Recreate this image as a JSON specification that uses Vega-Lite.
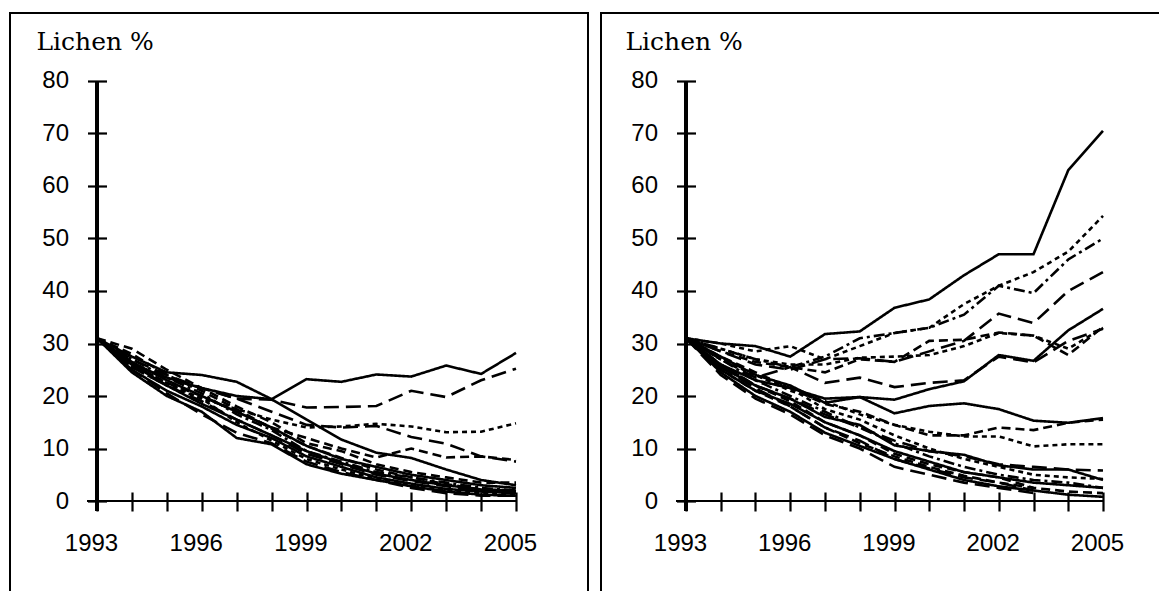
{
"$schema": "https://vega.github.io/schema/vega-lite/v6.json",
"background": "white",
"padding": {"left": 9, "top": 12, "right": 0, "bottom": 0},
"autosize": {"type": "pad"},
"config": {
 "view": {"stroke": "black", "strokeWidth": 2},
 "concat": {"spacing": 11},
 "axis": {"grid": false, "domain": false, "tickColor": "black", "tickWidth": 2.2, "tickSize": 19, "labelColor": "black", "labelFont": "Liberation Sans", "labelFontSize": 24, "labelFlush": false, "labelOverlap": false, "labelBound": false}
},
"datasets": {
"left": [
{"id":"L1","s":"solid","x":1993,"y":31},{"id":"L1","s":"solid","x":1994,"y":27.5},{"id":"L1","s":"solid","x":1995,"y":24.5},{"id":"L1","s":"solid","x":1996,"y":24},{"id":"L1","s":"solid","x":1997,"y":22.7},{"id":"L1","s":"solid","x":1998,"y":19.4},{"id":"L1","s":"solid","x":1999,"y":23.2},{"id":"L1","s":"solid","x":2000,"y":22.7},{"id":"L1","s":"solid","x":2001,"y":24.1},{"id":"L1","s":"solid","x":2002,"y":23.7},{"id":"L1","s":"solid","x":2003,"y":25.8},{"id":"L1","s":"solid","x":2004,"y":24.2},{"id":"L1","s":"solid","x":2005,"y":28.2},
{"id":"L2","s":"long","x":1993,"y":31},{"id":"L2","s":"long","x":1994,"y":26},{"id":"L2","s":"long","x":1995,"y":23.5},{"id":"L2","s":"long","x":1996,"y":21.5},{"id":"L2","s":"long","x":1997,"y":19.5},{"id":"L2","s":"long","x":1998,"y":19.3},{"id":"L2","s":"long","x":1999,"y":17.8},{"id":"L2","s":"long","x":2000,"y":17.9},{"id":"L2","s":"long","x":2001,"y":18.1},{"id":"L2","s":"long","x":2002,"y":21},{"id":"L2","s":"long","x":2003,"y":19.8},{"id":"L2","s":"long","x":2004,"y":23},{"id":"L2","s":"long","x":2005,"y":25.2},
{"id":"L3","s":"solid","x":1993,"y":31},{"id":"L3","s":"solid","x":1994,"y":26},{"id":"L3","s":"solid","x":1995,"y":23.5},{"id":"L3","s":"solid","x":1996,"y":21.5},{"id":"L3","s":"solid","x":1997,"y":20},{"id":"L3","s":"solid","x":1998,"y":19.4},{"id":"L3","s":"solid","x":1999,"y":15.5},{"id":"L3","s":"solid","x":2000,"y":11.7},{"id":"L3","s":"solid","x":2001,"y":9.2},{"id":"L3","s":"solid","x":2002,"y":8.2},{"id":"L3","s":"solid","x":2003,"y":6},{"id":"L3","s":"solid","x":2004,"y":4},{"id":"L3","s":"solid","x":2005,"y":3},
{"id":"L4","s":"short","x":1993,"y":31},{"id":"L4","s":"short","x":1994,"y":25.5},{"id":"L4","s":"short","x":1995,"y":22},{"id":"L4","s":"short","x":1996,"y":19.5},{"id":"L4","s":"short","x":1997,"y":17.5},{"id":"L4","s":"short","x":1998,"y":15.5},{"id":"L4","s":"short","x":1999,"y":14},{"id":"L4","s":"short","x":2000,"y":14.2},{"id":"L4","s":"short","x":2001,"y":14.7},{"id":"L4","s":"short","x":2002,"y":14.2},{"id":"L4","s":"short","x":2003,"y":13.1},{"id":"L4","s":"short","x":2004,"y":13.2},{"id":"L4","s":"short","x":2005,"y":14.8},
{"id":"L5","s":"long","x":1993,"y":31},{"id":"L5","s":"long","x":1994,"y":27},{"id":"L5","s":"long","x":1995,"y":24},{"id":"L5","s":"long","x":1996,"y":21.5},{"id":"L5","s":"long","x":1997,"y":19.5},{"id":"L5","s":"long","x":1998,"y":17},{"id":"L5","s":"long","x":1999,"y":14.5},{"id":"L5","s":"long","x":2000,"y":14},{"id":"L5","s":"long","x":2001,"y":14.3},{"id":"L5","s":"long","x":2002,"y":12.2},{"id":"L5","s":"long","x":2003,"y":10.9},{"id":"L5","s":"long","x":2004,"y":8.5},{"id":"L5","s":"long","x":2005,"y":7.5},
{"id":"L6","s":"med","x":1993,"y":31},{"id":"L6","s":"med","x":1994,"y":26},{"id":"L6","s":"med","x":1995,"y":22.5},{"id":"L6","s":"med","x":1996,"y":20},{"id":"L6","s":"med","x":1997,"y":17},{"id":"L6","s":"med","x":1998,"y":14},{"id":"L6","s":"med","x":1999,"y":12},{"id":"L6","s":"med","x":2000,"y":10},{"id":"L6","s":"med","x":2001,"y":8.3},{"id":"L6","s":"med","x":2002,"y":10},{"id":"L6","s":"med","x":2003,"y":8.3},{"id":"L6","s":"med","x":2004,"y":8.5},{"id":"L6","s":"med","x":2005,"y":7.8},
{"id":"B1","s":"med","x":1993,"y":31},{"id":"B1","s":"med","x":1994,"y":29},{"id":"B1","s":"med","x":1995,"y":25},{"id":"B1","s":"med","x":1996,"y":21.5},{"id":"B1","s":"med","x":1997,"y":18},{"id":"B1","s":"med","x":1998,"y":15},{"id":"B1","s":"med","x":1999,"y":11},{"id":"B1","s":"med","x":2000,"y":9.5},{"id":"B1","s":"med","x":2001,"y":7},{"id":"B1","s":"med","x":2002,"y":5.5},{"id":"B1","s":"med","x":2003,"y":4.5},{"id":"B1","s":"med","x":2004,"y":3.5},{"id":"B1","s":"med","x":2005,"y":3.5},
{"id":"B2","s":"solid","x":1993,"y":31},{"id":"B2","s":"solid","x":1994,"y":26.5},{"id":"B2","s":"solid","x":1995,"y":23},{"id":"B2","s":"solid","x":1996,"y":20},{"id":"B2","s":"solid","x":1997,"y":17},{"id":"B2","s":"solid","x":1998,"y":14},{"id":"B2","s":"solid","x":1999,"y":10.5},{"id":"B2","s":"solid","x":2000,"y":8},{"id":"B2","s":"solid","x":2001,"y":6.5},{"id":"B2","s":"solid","x":2002,"y":5},{"id":"B2","s":"solid","x":2003,"y":4},{"id":"B2","s":"solid","x":2004,"y":3},{"id":"B2","s":"solid","x":2005,"y":2.5},
{"id":"B3","s":"dashdot","x":1993,"y":31},{"id":"B3","s":"dashdot","x":1994,"y":27},{"id":"B3","s":"dashdot","x":1995,"y":23.5},{"id":"B3","s":"dashdot","x":1996,"y":20.5},{"id":"B3","s":"dashdot","x":1997,"y":16.5},{"id":"B3","s":"dashdot","x":1998,"y":13.5},{"id":"B3","s":"dashdot","x":1999,"y":9.5},{"id":"B3","s":"dashdot","x":2000,"y":7.5},{"id":"B3","s":"dashdot","x":2001,"y":5.5},{"id":"B3","s":"dashdot","x":2002,"y":4.5},{"id":"B3","s":"dashdot","x":2003,"y":3.5},{"id":"B3","s":"dashdot","x":2004,"y":2.5},{"id":"B3","s":"dashdot","x":2005,"y":2},
{"id":"B4","s":"long","x":1993,"y":31},{"id":"B4","s":"long","x":1994,"y":25.5},{"id":"B4","s":"long","x":1995,"y":22},{"id":"B4","s":"long","x":1996,"y":19},{"id":"B4","s":"long","x":1997,"y":15.5},{"id":"B4","s":"long","x":1998,"y":12.5},{"id":"B4","s":"long","x":1999,"y":9},{"id":"B4","s":"long","x":2000,"y":7},{"id":"B4","s":"long","x":2001,"y":5},{"id":"B4","s":"long","x":2002,"y":3.8},{"id":"B4","s":"long","x":2003,"y":2.8},{"id":"B4","s":"long","x":2004,"y":2},{"id":"B4","s":"long","x":2005,"y":1.8},
{"id":"B5","s":"solid","x":1993,"y":31},{"id":"B5","s":"solid","x":1994,"y":25},{"id":"B5","s":"solid","x":1995,"y":21},{"id":"B5","s":"solid","x":1996,"y":18},{"id":"B5","s":"solid","x":1997,"y":14.5},{"id":"B5","s":"solid","x":1998,"y":12},{"id":"B5","s":"solid","x":1999,"y":8.5},{"id":"B5","s":"solid","x":2000,"y":6.5},{"id":"B5","s":"solid","x":2001,"y":4.5},{"id":"B5","s":"solid","x":2002,"y":3.3},{"id":"B5","s":"solid","x":2003,"y":2.3},{"id":"B5","s":"solid","x":2004,"y":1.8},{"id":"B5","s":"solid","x":2005,"y":1.5},
{"id":"B6","s":"short","x":1993,"y":31},{"id":"B6","s":"short","x":1994,"y":26},{"id":"B6","s":"short","x":1995,"y":22.5},{"id":"B6","s":"short","x":1996,"y":19.5},{"id":"B6","s":"short","x":1997,"y":15},{"id":"B6","s":"short","x":1998,"y":11.5},{"id":"B6","s":"short","x":1999,"y":8},{"id":"B6","s":"short","x":2000,"y":6},{"id":"B6","s":"short","x":2001,"y":4.2},{"id":"B6","s":"short","x":2002,"y":3},{"id":"B6","s":"short","x":2003,"y":2},{"id":"B6","s":"short","x":2004,"y":1.5},{"id":"B6","s":"short","x":2005,"y":1.2},
{"id":"B7","s":"solid","x":1993,"y":31},{"id":"B7","s":"solid","x":1994,"y":24.5},{"id":"B7","s":"solid","x":1995,"y":20},{"id":"B7","s":"solid","x":1996,"y":17},{"id":"B7","s":"solid","x":1997,"y":12},{"id":"B7","s":"solid","x":1998,"y":10.8},{"id":"B7","s":"solid","x":1999,"y":7},{"id":"B7","s":"solid","x":2000,"y":5.2},{"id":"B7","s":"solid","x":2001,"y":4},{"id":"B7","s":"solid","x":2002,"y":2.8},{"id":"B7","s":"solid","x":2003,"y":1.8},{"id":"B7","s":"solid","x":2004,"y":1.2},{"id":"B7","s":"solid","x":2005,"y":1},
{"id":"B8","s":"long","x":1993,"y":31},{"id":"B8","s":"long","x":1994,"y":25},{"id":"B8","s":"long","x":1995,"y":20.5},{"id":"B8","s":"long","x":1996,"y":16.5},{"id":"B8","s":"long","x":1997,"y":13},{"id":"B8","s":"long","x":1998,"y":11},{"id":"B8","s":"long","x":1999,"y":7.5},{"id":"B8","s":"long","x":2000,"y":5.5},{"id":"B8","s":"long","x":2001,"y":4},{"id":"B8","s":"long","x":2002,"y":2.5},{"id":"B8","s":"long","x":2003,"y":1.5},{"id":"B8","s":"long","x":2004,"y":1},{"id":"B8","s":"long","x":2005,"y":1},
{"id":"B9","s":"med","x":1993,"y":31},{"id":"B9","s":"med","x":1994,"y":28},{"id":"B9","s":"med","x":1995,"y":24},{"id":"B9","s":"med","x":1996,"y":21},{"id":"B9","s":"med","x":1997,"y":17.5},{"id":"B9","s":"med","x":1998,"y":13.8},{"id":"B9","s":"med","x":1999,"y":10.5},{"id":"B9","s":"med","x":2000,"y":8.2},{"id":"B9","s":"med","x":2001,"y":6},{"id":"B9","s":"med","x":2002,"y":4.5},{"id":"B9","s":"med","x":2003,"y":3.2},{"id":"B9","s":"med","x":2004,"y":2.2},{"id":"B9","s":"med","x":2005,"y":1.8},
{"id":"B10","s":"solid","x":1993,"y":31},{"id":"B10","s":"solid","x":1994,"y":26},{"id":"B10","s":"solid","x":1995,"y":22},{"id":"B10","s":"solid","x":1996,"y":18.5},{"id":"B10","s":"solid","x":1997,"y":15.5},{"id":"B10","s":"solid","x":1998,"y":12.5},{"id":"B10","s":"solid","x":1999,"y":9.5},{"id":"B10","s":"solid","x":2000,"y":7.2},{"id":"B10","s":"solid","x":2001,"y":5.2},{"id":"B10","s":"solid","x":2002,"y":4},{"id":"B10","s":"solid","x":2003,"y":3},{"id":"B10","s":"solid","x":2004,"y":2.2},{"id":"B10","s":"solid","x":2005,"y":2}
],
"right": [
{"id":"R1","s":"solid","x":1993,"y":31},{"id":"R1","s":"solid","x":1994,"y":30},{"id":"R1","s":"solid","x":1995,"y":29.5},{"id":"R1","s":"solid","x":1996,"y":27.5},{"id":"R1","s":"solid","x":1997,"y":31.8},{"id":"R1","s":"solid","x":1998,"y":32.3},{"id":"R1","s":"solid","x":1999,"y":36.8},{"id":"R1","s":"solid","x":2000,"y":38.4},{"id":"R1","s":"solid","x":2001,"y":43},{"id":"R1","s":"solid","x":2002,"y":47},{"id":"R1","s":"solid","x":2003,"y":47},{"id":"R1","s":"solid","x":2004,"y":63},{"id":"R1","s":"solid","x":2005,"y":70.5},
{"id":"R2","s":"short","x":1993,"y":31},{"id":"R2","s":"short","x":1994,"y":30},{"id":"R2","s":"short","x":1995,"y":28.5},{"id":"R2","s":"short","x":1996,"y":29.5},{"id":"R2","s":"short","x":1997,"y":27},{"id":"R2","s":"short","x":1998,"y":29.5},{"id":"R2","s":"short","x":1999,"y":32},{"id":"R2","s":"short","x":2000,"y":33},{"id":"R2","s":"short","x":2001,"y":37.5},{"id":"R2","s":"short","x":2002,"y":41},{"id":"R2","s":"short","x":2003,"y":43.6},{"id":"R2","s":"short","x":2004,"y":47.5},{"id":"R2","s":"short","x":2005,"y":54.3},
{"id":"R3","s":"dashdot","x":1993,"y":31},{"id":"R3","s":"dashdot","x":1994,"y":29},{"id":"R3","s":"dashdot","x":1995,"y":27},{"id":"R3","s":"dashdot","x":1996,"y":25.5},{"id":"R3","s":"dashdot","x":1997,"y":27.5},{"id":"R3","s":"dashdot","x":1998,"y":31},{"id":"R3","s":"dashdot","x":1999,"y":32},{"id":"R3","s":"dashdot","x":2000,"y":33},{"id":"R3","s":"dashdot","x":2001,"y":35.5},{"id":"R3","s":"dashdot","x":2002,"y":41},{"id":"R3","s":"dashdot","x":2003,"y":39.6},{"id":"R3","s":"dashdot","x":2004,"y":46},{"id":"R3","s":"dashdot","x":2005,"y":50},
{"id":"R4","s":"long","x":1993,"y":31},{"id":"R4","s":"long","x":1994,"y":28.5},{"id":"R4","s":"long","x":1995,"y":26},{"id":"R4","s":"long","x":1996,"y":25},{"id":"R4","s":"long","x":1997,"y":27},{"id":"R4","s":"long","x":1998,"y":27.2},{"id":"R4","s":"long","x":1999,"y":26.5},{"id":"R4","s":"long","x":2000,"y":28.5},{"id":"R4","s":"long","x":2001,"y":30.5},{"id":"R4","s":"long","x":2002,"y":35.7},{"id":"R4","s":"long","x":2003,"y":33.9},{"id":"R4","s":"long","x":2004,"y":40},{"id":"R4","s":"long","x":2005,"y":43.6},
{"id":"R5","s":"solid","x":1993,"y":31},{"id":"R5","s":"solid","x":1994,"y":27.5},{"id":"R5","s":"solid","x":1995,"y":24},{"id":"R5","s":"solid","x":1996,"y":22},{"id":"R5","s":"solid","x":1997,"y":18.7},{"id":"R5","s":"solid","x":1998,"y":19.8},{"id":"R5","s":"solid","x":1999,"y":19.3},{"id":"R5","s":"solid","x":2000,"y":21.3},{"id":"R5","s":"solid","x":2001,"y":22.8},{"id":"R5","s":"solid","x":2002,"y":27.8},{"id":"R5","s":"solid","x":2003,"y":26.7},{"id":"R5","s":"solid","x":2004,"y":32.5},{"id":"R5","s":"solid","x":2005,"y":36.6},
{"id":"R6","s":"med","x":1993,"y":31},{"id":"R6","s":"med","x":1994,"y":28.5},{"id":"R6","s":"med","x":1995,"y":26.5},{"id":"R6","s":"med","x":1996,"y":25.5},{"id":"R6","s":"med","x":1997,"y":24.5},{"id":"R6","s":"med","x":1998,"y":27},{"id":"R6","s":"med","x":1999,"y":26.5},{"id":"R6","s":"med","x":2000,"y":30.5},{"id":"R6","s":"med","x":2001,"y":30.7},{"id":"R6","s":"med","x":2002,"y":32.1},{"id":"R6","s":"med","x":2003,"y":31.5},{"id":"R6","s":"med","x":2004,"y":27.8},{"id":"R6","s":"med","x":2005,"y":33.2},
{"id":"R7","s":"long","x":1993,"y":31},{"id":"R7","s":"long","x":1994,"y":27},{"id":"R7","s":"long","x":1995,"y":23.5},{"id":"R7","s":"long","x":1996,"y":25.5},{"id":"R7","s":"long","x":1997,"y":22.5},{"id":"R7","s":"long","x":1998,"y":23.5},{"id":"R7","s":"long","x":1999,"y":21.7},{"id":"R7","s":"long","x":2000,"y":22.5},{"id":"R7","s":"long","x":2001,"y":23},{"id":"R7","s":"long","x":2002,"y":27.5},{"id":"R7","s":"long","x":2003,"y":26.4},{"id":"R7","s":"long","x":2004,"y":30.5},{"id":"R7","s":"long","x":2005,"y":32.8},
{"id":"R8","s":"short","x":1993,"y":31},{"id":"R8","s":"short","x":1994,"y":29},{"id":"R8","s":"short","x":1995,"y":27},{"id":"R8","s":"short","x":1996,"y":26},{"id":"R8","s":"short","x":1997,"y":26},{"id":"R8","s":"short","x":1998,"y":27.3},{"id":"R8","s":"short","x":1999,"y":27.5},{"id":"R8","s":"short","x":2000,"y":27.8},{"id":"R8","s":"short","x":2001,"y":29.5},{"id":"R8","s":"short","x":2002,"y":32},{"id":"R8","s":"short","x":2003,"y":31.5},{"id":"R8","s":"short","x":2004,"y":29},{"id":"R8","s":"short","x":2005,"y":33},
{"id":"R9","s":"solid","x":1993,"y":31},{"id":"R9","s":"solid","x":1994,"y":26},{"id":"R9","s":"solid","x":1995,"y":23},{"id":"R9","s":"solid","x":1996,"y":21.5},{"id":"R9","s":"solid","x":1997,"y":19.5},{"id":"R9","s":"solid","x":1998,"y":19.8},{"id":"R9","s":"solid","x":1999,"y":16.7},{"id":"R9","s":"solid","x":2000,"y":18.1},{"id":"R9","s":"solid","x":2001,"y":18.6},{"id":"R9","s":"solid","x":2002,"y":17.5},{"id":"R9","s":"solid","x":2003,"y":15.3},{"id":"R9","s":"solid","x":2004,"y":14.9},{"id":"R9","s":"solid","x":2005,"y":15.8},
{"id":"R10","s":"short","x":1993,"y":31},{"id":"R10","s":"short","x":1994,"y":27},{"id":"R10","s":"short","x":1995,"y":24},{"id":"R10","s":"short","x":1996,"y":21},{"id":"R10","s":"short","x":1997,"y":19},{"id":"R10","s":"short","x":1998,"y":16.5},{"id":"R10","s":"short","x":1999,"y":14.5},{"id":"R10","s":"short","x":2000,"y":13.2},{"id":"R10","s":"short","x":2001,"y":12.3},{"id":"R10","s":"short","x":2002,"y":12.3},{"id":"R10","s":"short","x":2003,"y":10.4},{"id":"R10","s":"short","x":2004,"y":10.8},{"id":"R10","s":"short","x":2005,"y":10.8},
{"id":"R11","s":"med","x":1993,"y":31},{"id":"R11","s":"med","x":1994,"y":27.5},{"id":"R11","s":"med","x":1995,"y":24.5},{"id":"R11","s":"med","x":1996,"y":21.5},{"id":"R11","s":"med","x":1997,"y":18.5},{"id":"R11","s":"med","x":1998,"y":17},{"id":"R11","s":"med","x":1999,"y":14.5},{"id":"R11","s":"med","x":2000,"y":12.5},{"id":"R11","s":"med","x":2001,"y":12.5},{"id":"R11","s":"med","x":2002,"y":14},{"id":"R11","s":"med","x":2003,"y":13.5},{"id":"R11","s":"med","x":2004,"y":14.9},{"id":"R11","s":"med","x":2005,"y":15.5},
{"id":"R12","s":"long","x":1993,"y":31},{"id":"R12","s":"long","x":1994,"y":26},{"id":"R12","s":"long","x":1995,"y":22},{"id":"R12","s":"long","x":1996,"y":19.5},{"id":"R12","s":"long","x":1997,"y":16.5},{"id":"R12","s":"long","x":1998,"y":14},{"id":"R12","s":"long","x":1999,"y":11.5},{"id":"R12","s":"long","x":2000,"y":9.5},{"id":"R12","s":"long","x":2001,"y":8.5},{"id":"R12","s":"long","x":2002,"y":7},{"id":"R12","s":"long","x":2003,"y":6.5},{"id":"R12","s":"long","x":2004,"y":6},{"id":"R12","s":"long","x":2005,"y":5.8},
{"id":"R13","s":"solid","x":1993,"y":31},{"id":"R13","s":"solid","x":1994,"y":25.5},{"id":"R13","s":"solid","x":1995,"y":22},{"id":"R13","s":"solid","x":1996,"y":19.5},{"id":"R13","s":"solid","x":1997,"y":16},{"id":"R13","s":"solid","x":1998,"y":14.5},{"id":"R13","s":"solid","x":1999,"y":10.6},{"id":"R13","s":"solid","x":2000,"y":9.5},{"id":"R13","s":"solid","x":2001,"y":8.8},{"id":"R13","s":"solid","x":2002,"y":6.8},{"id":"R13","s":"solid","x":2003,"y":6},{"id":"R13","s":"solid","x":2004,"y":6},{"id":"R13","s":"solid","x":2005,"y":4},
{"id":"R14","s":"solid","x":1993,"y":31},{"id":"R14","s":"solid","x":1994,"y":25},{"id":"R14","s":"solid","x":1995,"y":21},{"id":"R14","s":"solid","x":1996,"y":18.5},{"id":"R14","s":"solid","x":1997,"y":15},{"id":"R14","s":"solid","x":1998,"y":12.5},{"id":"R14","s":"solid","x":1999,"y":9.5},{"id":"R14","s":"solid","x":2000,"y":7.5},{"id":"R14","s":"solid","x":2001,"y":5.5},{"id":"R14","s":"solid","x":2002,"y":4.5},{"id":"R14","s":"solid","x":2003,"y":3.5},{"id":"R14","s":"solid","x":2004,"y":3},{"id":"R14","s":"solid","x":2005,"y":2.5},
{"id":"R15","s":"solid","x":1993,"y":31},{"id":"R15","s":"solid","x":1994,"y":24.5},{"id":"R15","s":"solid","x":1995,"y":20},{"id":"R15","s":"solid","x":1996,"y":17},{"id":"R15","s":"solid","x":1997,"y":13},{"id":"R15","s":"solid","x":1998,"y":10.5},{"id":"R15","s":"solid","x":1999,"y":8},{"id":"R15","s":"solid","x":2000,"y":6},{"id":"R15","s":"solid","x":2001,"y":4},{"id":"R15","s":"solid","x":2002,"y":2.8},{"id":"R15","s":"solid","x":2003,"y":2},{"id":"R15","s":"solid","x":2004,"y":1.2},{"id":"R15","s":"solid","x":2005,"y":0.8},
{"id":"R16","s":"long","x":1993,"y":31},{"id":"R16","s":"long","x":1994,"y":24},{"id":"R16","s":"long","x":1995,"y":19.5},{"id":"R16","s":"long","x":1996,"y":16.5},{"id":"R16","s":"long","x":1997,"y":12.5},{"id":"R16","s":"long","x":1998,"y":10},{"id":"R16","s":"long","x":1999,"y":6.5},{"id":"R16","s":"long","x":2000,"y":5},{"id":"R16","s":"long","x":2001,"y":3.5},{"id":"R16","s":"long","x":2002,"y":2.5},{"id":"R16","s":"long","x":2003,"y":1.5},
{"id":"R17","s":"med","x":1993,"y":31},{"id":"R17","s":"med","x":1994,"y":25},{"id":"R17","s":"med","x":1995,"y":21},{"id":"R17","s":"med","x":1996,"y":18},{"id":"R17","s":"med","x":1997,"y":14},{"id":"R17","s":"med","x":1998,"y":11},{"id":"R17","s":"med","x":1999,"y":8.5},{"id":"R17","s":"med","x":2000,"y":6.5},{"id":"R17","s":"med","x":2001,"y":4.8},{"id":"R17","s":"med","x":2002,"y":3.5},{"id":"R17","s":"med","x":2003,"y":2.5},{"id":"R17","s":"med","x":2004,"y":1.8},{"id":"R17","s":"med","x":2005,"y":1.5},
{"id":"R18","s":"med","x":1993,"y":31},{"id":"R18","s":"med","x":1994,"y":26},{"id":"R18","s":"med","x":1995,"y":22},{"id":"R18","s":"med","x":1996,"y":19},{"id":"R18","s":"med","x":1997,"y":15},{"id":"R18","s":"med","x":1998,"y":12.5},{"id":"R18","s":"med","x":1999,"y":9},{"id":"R18","s":"med","x":2000,"y":7},{"id":"R18","s":"med","x":2001,"y":5.5},{"id":"R18","s":"med","x":2002,"y":4.5},{"id":"R18","s":"med","x":2003,"y":2.5},
{"id":"R19","s":"dashdot","x":1993,"y":31},{"id":"R19","s":"dashdot","x":1994,"y":27},{"id":"R19","s":"dashdot","x":1995,"y":23},{"id":"R19","s":"dashdot","x":1996,"y":20},{"id":"R19","s":"dashdot","x":1997,"y":17},{"id":"R19","s":"dashdot","x":1998,"y":14},{"id":"R19","s":"dashdot","x":1999,"y":11},{"id":"R19","s":"dashdot","x":2000,"y":8.5},{"id":"R19","s":"dashdot","x":2001,"y":6.5},{"id":"R19","s":"dashdot","x":2002,"y":5},{"id":"R19","s":"dashdot","x":2003,"y":4},{"id":"R19","s":"dashdot","x":2004,"y":3.5},{"id":"R19","s":"dashdot","x":2005,"y":2.5},
{"id":"R20","s":"short","x":1993,"y":31},{"id":"R20","s":"short","x":1994,"y":27},{"id":"R20","s":"short","x":1995,"y":24},{"id":"R20","s":"short","x":1996,"y":21.5},{"id":"R20","s":"short","x":1997,"y":17.5},{"id":"R20","s":"short","x":1998,"y":15.5},{"id":"R20","s":"short","x":1999,"y":12.5},{"id":"R20","s":"short","x":2000,"y":10},{"id":"R20","s":"short","x":2001,"y":8},{"id":"R20","s":"short","x":2002,"y":6.5},{"id":"R20","s":"short","x":2003,"y":5},{"id":"R20","s":"short","x":2004,"y":4.5},{"id":"R20","s":"short","x":2005,"y":4.2},
{"id":"R21","s":"long","x":1993,"y":31},{"id":"R21","s":"long","x":1994,"y":25.5},{"id":"R21","s":"long","x":1995,"y":21.5},{"id":"R21","s":"long","x":1996,"y":18},{"id":"R21","s":"long","x":1997,"y":14},{"id":"R21","s":"long","x":1998,"y":11.5},{"id":"R21","s":"long","x":1999,"y":8},{"id":"R21","s":"long","x":2000,"y":6.2},{"id":"R21","s":"long","x":2001,"y":4.5},{"id":"R21","s":"long","x":2002,"y":3.5},{"id":"R21","s":"long","x":2003,"y":2}
]
},
"hconcat": [
{
 "width": 578, "height": 600,
 "data": {"name": "left"},
 "layer": [
  {"mark": {"type": "line", "color": "black", "strokeWidth": 2.6},
   "encoding": {
    "x": {"field": "x", "type": "quantitative", "scale": {"domain": [1990.508, 2007.062], "nice": false, "zero": false},
      "axis": {"orient": "bottom", "title": null, "offset": -121, "values": [1993,1994,1995,1996,1997,1998,1999,2000,2001,2002,2003,2004,2005], "format": "d", "labelExpr": "(datum.value - 1993) % 3 == 0 ? datum.label : ''", "labelPadding": 20, "labelOffset": -6}},
    "y": {"field": "y", "type": "quantitative", "scale": {"domain": [-21.333, 92.952], "nice": false, "zero": false},
      "axis": {"orient": "left", "offset": -96.5, "values": [0,10,20,30,40,50,60,70,80], "labelPadding": 19, "title": "Lichen %", "titleAngle": 0, "titleAlign": "left", "titleBaseline": "alphabetic", "titleFont": "DejaVu Serif", "titleFontSize": 25, "titleFontWeight": "normal", "titleColor": "black", "titleX": -70.5, "titleY": 36}},
    "detail": {"field": "id"},
    "strokeDash": {"field": "s", "type": "nominal", "legend": null, "scale": {"domain": ["solid","long","med","short","dashdot"], "range": [[1,0],[15,7],[9,5],[5,4],[11,4,3,4]]}}
   }},
  {"mark": {"type": "rule", "color": "black", "strokeWidth": 2.2},
   "encoding": {"x": {"datum": 1992.72, "type": "quantitative"}, "x2": {"datum": 2005}, "y": {"datum": 0, "type": "quantitative"}}},
  {"mark": {"type": "rule", "color": "black", "strokeWidth": 2.2},
   "encoding": {"x": {"datum": 1993, "type": "quantitative"}, "y": {"datum": 80, "type": "quantitative"}, "y2": {"datum": -1.8}}}
 ]
},
{
 "width": 578, "height": 600,
 "data": {"name": "right"},
 "layer": [
  {"mark": {"type": "line", "color": "black", "strokeWidth": 2.6},
   "encoding": {
    "x": {"field": "x", "type": "quantitative", "scale": {"domain": [1990.554, 2007.187], "nice": false, "zero": false},
      "axis": {"orient": "bottom", "title": null, "offset": -121, "values": [1993,1994,1995,1996,1997,1998,1999,2000,2001,2002,2003,2004,2005], "format": "d", "labelExpr": "(datum.value - 1993) % 3 == 0 ? datum.label : ''", "labelPadding": 20, "labelOffset": -6}},
    "y": {"field": "y", "type": "quantitative", "scale": {"domain": [-21.333, 92.952], "nice": false, "zero": false},
      "axis": {"orient": "left", "offset": -94.5, "values": [0,10,20,30,40,50,60,70,80], "labelPadding": 19, "title": "Lichen %", "titleAngle": 0, "titleAlign": "left", "titleBaseline": "alphabetic", "titleFont": "DejaVu Serif", "titleFontSize": 25, "titleFontWeight": "normal", "titleColor": "black", "titleX": -70.5, "titleY": 36}},
    "detail": {"field": "id"},
    "strokeDash": {"field": "s", "type": "nominal", "legend": null, "scale": {"domain": ["solid","long","med","short","dashdot"], "range": [[1,0],[15,7],[9,5],[5,4],[11,4,3,4]]}}
   }},
  {"mark": {"type": "rule", "color": "black", "strokeWidth": 2.2},
   "encoding": {"x": {"datum": 1993, "type": "quantitative"}, "y": {"datum": 80, "type": "quantitative"}, "y2": {"datum": -1.8}}},
  {"mark": {"type": "rule", "color": "black", "strokeWidth": 2.2},
   "encoding": {"x": {"datum": 1992.72, "type": "quantitative"}, "x2": {"datum": 2005}, "y": {"datum": 0, "type": "quantitative"}}}
 ]
}
]
}
